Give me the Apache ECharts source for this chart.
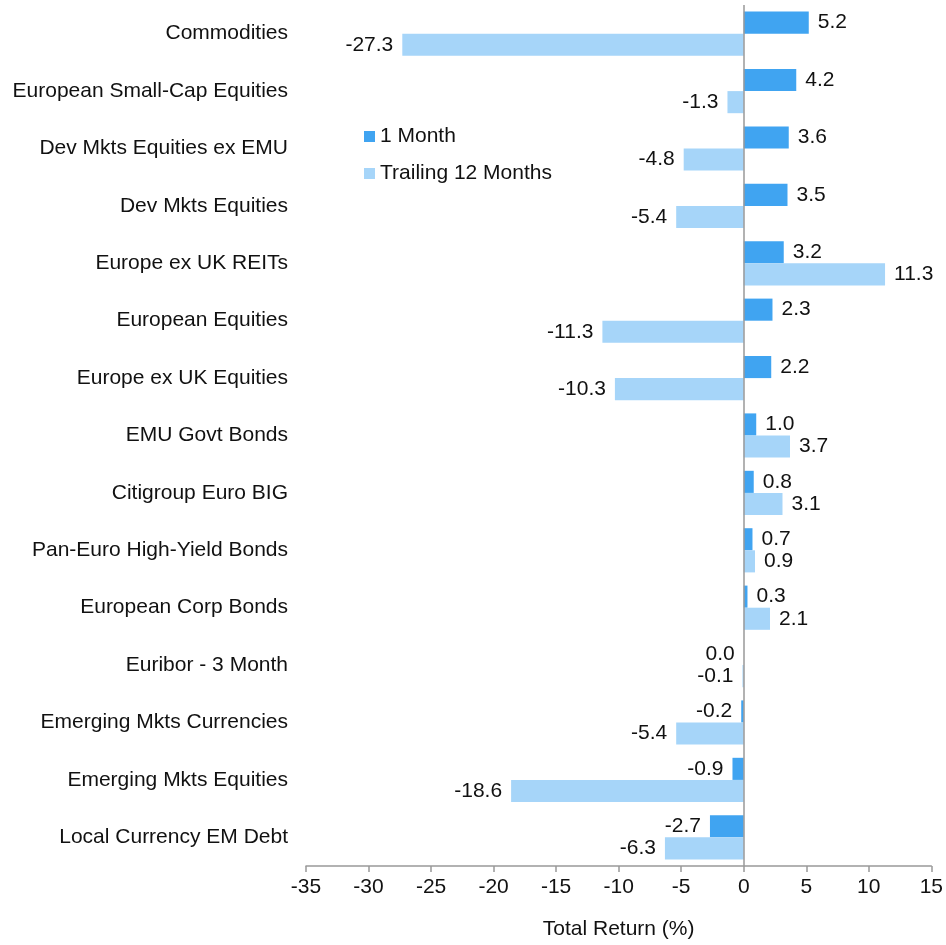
<!DOCTYPE html>
<html>
<head>
<meta charset="utf-8">
<script src="https://cdn.jsdelivr.net/npm/echarts@6/dist/echarts.min.js"></script>
<style>html,body{margin:0;padding:0;background:#fff}#c{width:946px;height:945px}</style>
</head>
<body>
<div id="c"></div>
<script>
var categories = ["Commodities","European Small-Cap Equities","Dev Mkts Equities ex EMU","Dev Mkts Equities","Europe ex UK REITs","European Equities","Europe ex UK Equities","EMU Govt Bonds","Citigroup Euro BIG","Pan-Euro High-Yield Bonds","European Corp Bonds","Euribor - 3 Month","Emerging Mkts Currencies","Emerging Mkts Equities","Local Currency EM Debt"];
var oneMonth = [5.2,4.2,3.6,3.5,3.2,2.3,2.2,1.0,0.8,0.7,0.3,0.0,-0.2,-0.9,-2.7];
var trailing12 = [-27.3,-1.3,-4.8,-5.4,11.3,-11.3,-10.3,3.7,3.1,0.9,2.1,-0.1,-5.4,-18.6,-6.3];
var seriesNames = ["1 Month","Trailing 12 Months"];
var xTicks = {min:-35,max:15,interval:5};

var font = "Liberation Sans, Arial, sans-serif";
var fs = 21;
function mk(vals){
  return vals.map(function(v){
    return {value:v,label:{position: v>0 ? 'right' : 'left'}};
  });
}
var chart = echarts.init(document.getElementById('c'));
chart.setOption({
  animation:false,
  textStyle:{fontFamily:font},
  legend:{
    orient:'vertical',left:359,top:121,itemWidth:11,itemHeight:11,itemGap:16,
    icon:'rect',
    textStyle:{fontSize:fs,color:'#111',fontFamily:font},
    data:seriesNames
  },
  grid:{left:306,right:13,top:5,bottom:77},
  xAxis:{
    type:'value',min:xTicks.min,max:xTicks.max,interval:xTicks.interval,
    name:'Total Return (%)',nameLocation:'middle',nameGap:53,
    nameTextStyle:{fontSize:fs,color:'#111',fontFamily:font},
    axisLine:{show:true,lineStyle:{color:'#999',width:1.5}},
    axisTick:{show:true,length:6,lineStyle:{color:'#999',width:1.5}},
    axisLabel:{fontSize:fs,color:'#111',margin:11,fontFamily:font},
    splitLine:{show:false}
  },
  yAxis:{
    type:'category',data:categories,inverse:true,
    axisLine:{show:false},axisTick:{show:false},
    axisLabel:{fontSize:fs,color:'#111',margin:18,fontFamily:font}
  },
  series:[
    {name:seriesNames[0],type:'bar',data:mk(oneMonth),barGap:'0%',barCategoryGap:'23%',
     itemStyle:{color:'#40A4F1'},
     label:{show:true,fontSize:fs,color:'#111',distance:9,fontFamily:font,formatter:function(p){return p.value.toFixed(1);}},
     markLine:{silent:true,symbol:'none',label:{show:false},lineStyle:{color:'#999',type:'solid',width:1.5},data:[{xAxis:0}]}
    },
    {name:seriesNames[1],type:'bar',data:mk(trailing12),barGap:'0%',barCategoryGap:'23%',
     itemStyle:{color:'#A6D5F9'},
     label:{show:true,fontSize:fs,color:'#111',distance:9,fontFamily:font,formatter:function(p){return p.value.toFixed(1);}}
    }
  ]
});
</script>
</body>
</html>
